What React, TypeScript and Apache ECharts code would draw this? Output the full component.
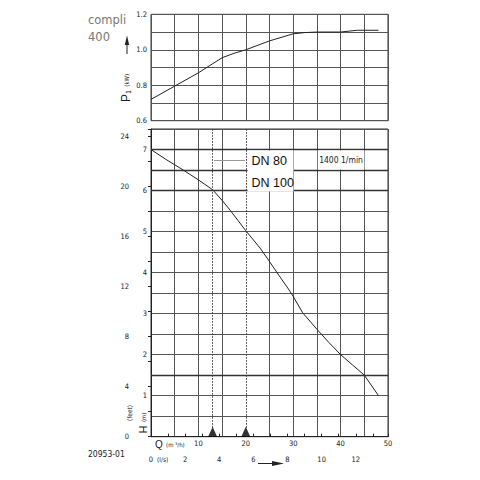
import React, { useEffect, useRef } from 'react';
import * as echarts from 'echarts';

// Head curve H (m) vs flow Q (m³/h)
const headQ = [0, 3, 6.8, 10, 13, 15, 16.7, 20, 23, 25, 27, 29, 30, 32, 35, 37.5, 40, 42.5, 45, 48];
const headM = [7.0, 6.77, 6.5, 6.26, 6.02, 5.76, 5.52, 5.02, 4.6, 4.27, 3.93, 3.6, 3.42, 3.02, 2.62, 2.3, 2.0, 1.75, 1.5, 1.0];

// Power curve P1 (kW) vs flow Q (m³/h)
const powerQ = [0, 5, 10, 15, 17.5, 20, 25, 30, 32.5, 35, 40, 43.5, 48];
const powerKW = [0.72, 0.795, 0.87, 0.955, 0.98, 1.0, 1.05, 1.09, 1.097, 1.1, 1.1, 1.11, 1.11];

// Marked flows (DN 80, DN 100)
const markerQ = [13, 20];
const markerNames = ['DN 80', 'DN 100'];

// Thicker head grid lines (m)
const thickHeadLines = [7, 6.5, 6, 1.5];

const Q_MAX = 50;
const Q_STEP = 5;
const H_MAX = 7.5;
const P_MIN = 0.6;
const P_MAX = 1.2;
const FT_PER_M = 3.28084;
const M3H_PER_LS = 3.6;

const FONT = "'Liberation Sans Narrow', 'DejaVu Sans Condensed', 'Liberation Sans', sans-serif";
const INK = '#222';
const GRID = '#555';

export default function App() {
  const ref = useRef<HTMLDivElement>(null);

  useEffect(() => {
    if (!ref.current) return;
    const chart = echarts.init(ref.current, null, { renderer: 'svg' });

    const lbl = { fontSize: 7.5, color: INK, fontFamily: FONT };
    const split = { show: true, lineStyle: { color: GRID, width: 1 } };
    // lower grid: vertical grid line replaced by the dotted marker line where they coincide
    const lowerVColors: string[] = [];
    for (let q = 0; q <= Q_MAX; q += Q_STEP) lowerVColors.push(markerQ.includes(q) ? 'rgba(0,0,0,0)' : GRID);

    const option: any = {
      animation: false,
      backgroundColor: '#fff',
      grid: [
        { left: 151, top: 14.3, width: 237, height: 106.4, show: true, borderColor: '#333', borderWidth: 1, outerBoundsMode: 'none' },
        { left: 151, top: 129, width: 237, height: 307.7, show: true, borderColor: '#333', borderWidth: 1, outerBoundsMode: 'none' },
      ],
      xAxis: [
        {
          gridIndex: 0, type: 'value', min: 0, max: Q_MAX, interval: Q_STEP,
          axisLine: { show: false }, axisTick: { show: false }, axisLabel: { show: false },
          splitLine: split,
        },
        {
          gridIndex: 1, type: 'value', min: 0, max: Q_MAX, interval: Q_STEP,
          axisLine: { show: false }, axisTick: { show: false },
          axisLabel: { ...lbl, margin: 3, formatter: (v: number) => (v > 0 && v % 10 === 0 ? String(v) : '') },
          splitLine: { show: true, lineStyle: { color: lowerVColors, width: 1 } },
        },
        {
          gridIndex: 1, type: 'value', position: 'bottom', offset: 15.6,
          min: 0, max: Q_MAX / M3H_PER_LS, interval: 1,
          axisLine: { show: true, lineStyle: { color: INK, width: 1 } },
          axisTick: { show: true, inside: true, length: 3, lineStyle: { color: INK } },
          axisLabel: { ...lbl, margin: 3, formatter: (v: number) => (Number.isInteger(v) && v % 2 === 0 ? String(v) : '') },
          splitLine: { show: false },
        },
      ],
      yAxis: [
        {
          gridIndex: 0, type: 'value', min: P_MIN, max: P_MAX, interval: 0.1,
          axisLine: { show: false }, axisTick: { show: false },
          axisLabel: { ...lbl, margin: 4, formatter: (v: number) => (Math.round(v * 10) % 2 === 0 ? v.toFixed(1) : '') },
          splitLine: split,
        },
        {
          gridIndex: 1, type: 'value', min: 0, max: H_MAX, interval: 0.5,
          axisLine: { show: false }, axisTick: { show: false },
          axisLabel: { ...lbl, margin: 4, formatter: (v: number) => (v > 0 && Number.isInteger(v) ? String(v) : '') },
          splitLine: split,
        },
        {
          gridIndex: 1, type: 'value', position: 'left', offset: 16,
          min: 0, max: H_MAX * FT_PER_M, interval: 2,
          axisLine: { show: true, lineStyle: { color: INK, width: 1 } },
          axisTick: { show: true, length: 3, lineStyle: { color: INK } },
          axisLabel: { ...lbl, margin: 6, formatter: (v: number) => (Number.isInteger(v) && v % 4 === 0 ? String(v) : '') },
          splitLine: { show: false },
        },
      ],
      series: [
        {
          type: 'line', xAxisIndex: 0, yAxisIndex: 0, symbol: 'none',
          lineStyle: { color: INK, width: 1 },
          data: powerQ.map((q, i) => [q, powerKW[i]]),
        },
        {
          type: 'line', xAxisIndex: 1, yAxisIndex: 1, symbol: 'none',
          lineStyle: { color: INK, width: 1 },
          data: headQ.map((q, i) => [q, headM[i]]),
          markLine: {
            silent: true, symbol: ['none', 'none'], label: { show: false },
            lineStyle: { color: '#333', width: 1.4, type: 'solid' },
            data: thickHeadLines.map((h) => ({ yAxis: h })),
          },
        },
        {
          type: 'scatter', xAxisIndex: 1, yAxisIndex: 1,
          symbol: 'triangle', symbolSize: [9, 10], symbolOffset: [0, '-50%'],
          itemStyle: { color: '#000' },
          data: markerQ.map((q) => [q, 0]),
          markLine: {
            silent: true, symbol: ['none', 'none'], label: { show: false },
            lineStyle: { color: '#333', width: 1, type: [1.5, 1.5] },
            data: markerQ.map((q) => ({ xAxis: q })),
          },
        },
      ],
      graphic: [
        // white label boxes
        { type: 'rect', z: 50, shape: { x: 247.5, y: 150.6, width: 46, height: 40.8 }, style: { fill: '#fff' } },
        { type: 'rect', z: 50, shape: { x: 317.8, y: 150.6, width: 46.6, height: 18.8 }, style: { fill: '#fff' } },
        { type: 'line', z: 51, shape: { x1: 214, y1: 160.5, x2: 245, y2: 160.5 }, style: { stroke: '#999', lineWidth: 1 } },
        { type: 'text', z: 52, x: 251.5, y: 161, style: { text: markerNames[0], fontSize: 12.5, fontFamily: "'Liberation Sans', sans-serif", fill: '#111', verticalAlign: 'middle' } },
        { type: 'text', z: 52, x: 251.5, y: 182.5, style: { text: markerNames[1], fontSize: 12.5, fontFamily: "'Liberation Sans', sans-serif", fill: '#111', verticalAlign: 'middle' } },
        { type: 'text', z: 52, x: 341, y: 160, style: { text: '1400 1/min', fontSize: 8.5, fontFamily: FONT, fill: '#222', align: 'center', verticalAlign: 'middle' } },
        // model name
        { type: 'text', z: 52, x: 88, y: 19.5, style: { text: 'compli', fontSize: 11.5, fontFamily: "'DejaVu Sans', sans-serif", fill: '#777', verticalAlign: 'middle' } },
        { type: 'text', z: 52, x: 88, y: 37, style: { text: '400', fontSize: 11.5, fontFamily: "'DejaVu Sans', sans-serif", fill: '#777', verticalAlign: 'middle' } },
        // P1 (kW) label and arrow
        {
          type: 'text', z: 52, x: 126, y: 88, rotation: Math.PI / 2,
          style: {
            text: '{p|P}{s|1} {u|(kW)}', align: 'center', verticalAlign: 'middle', fill: INK,
            rich: {
              p: { fontSize: 12, fontFamily: "'Liberation Sans', sans-serif", fill: INK },
              s: { fontSize: 7, fontFamily: FONT, fill: INK, verticalAlign: 'bottom' },
              u: { fontSize: 6, fontFamily: FONT, fill: INK },
            },
          },
        },
        { type: 'line', z: 52, shape: { x1: 127, y1: 54, x2: 127, y2: 42 }, style: { stroke: INK, lineWidth: 1 } },
        { type: 'polygon', z: 52, shape: { points: [[124.8, 45], [127, 35.5], [129.2, 45]] }, style: { fill: INK } },
        // H (m) and (feet)
        {
          type: 'text', z: 52, x: 143, y: 423, rotation: Math.PI / 2,
          style: {
            text: '{h|H} {u|(m)}', align: 'center', verticalAlign: 'middle', fill: INK,
            rich: {
              h: { fontSize: 11, fontFamily: "'Liberation Sans', sans-serif", fill: INK },
              u: { fontSize: 6, fontFamily: FONT, fill: INK },
            },
          },
        },
        { type: 'text', z: 52, x: 130, y: 413, rotation: Math.PI / 2, style: { text: '(feet)', fontSize: 6.5, fontFamily: FONT, fill: INK, align: 'center', verticalAlign: 'middle' } },
        // Q (m³/h) and (l/s)
        {
          type: 'text', z: 52, x: 155, y: 444,
          style: {
            text: '{q|Q} {u|(m ³/h)}', verticalAlign: 'middle', fill: INK,
            rich: {
              q: { fontSize: 10, fontFamily: "'Liberation Sans', sans-serif", fill: INK },
              u: { fontSize: 6, fontFamily: FONT, fill: INK },
            },
          },
        },
        { type: 'text', z: 52, x: 157, y: 460, style: { text: '(l/s)', fontSize: 6.5, fontFamily: FONT, fill: INK, verticalAlign: 'middle' } },
        // flow arrow
        { type: 'line', z: 52, shape: { x1: 258, y1: 463.5, x2: 274, y2: 463.5 }, style: { stroke: INK, lineWidth: 1 } },
        { type: 'polygon', z: 52, shape: { points: [[272, 461], [284, 463.5], [272, 466]] }, style: { fill: INK } },
        // drawing number
        { type: 'text', z: 52, x: 88, y: 454, style: { text: '20953-01', fontSize: 8.5, fontFamily: FONT, fill: INK, verticalAlign: 'middle' } },
      ],
    };

    chart.setOption(option);
    return () => chart.dispose();
  }, []);

  return (
    <div
      ref={ref}
      style={{ position: 'fixed', left: 0, top: 0, width: 480, height: 480, background: '#fff' }}
    />
  );
}
